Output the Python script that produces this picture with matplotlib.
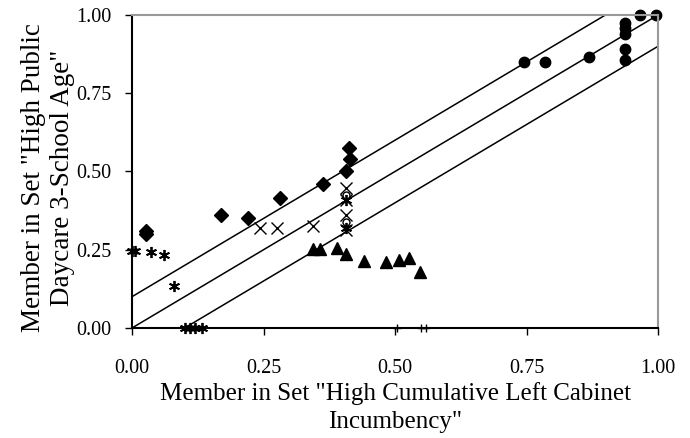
import matplotlib
matplotlib.use("Agg")
import matplotlib.pyplot as plt
import numpy as np

# diamonds
dia_x = [0.027, 0.027, 0.17, 0.221, 0.282, 0.364, 0.406, 0.414, 0.413]
dia_y = [0.30, 0.31, 0.36, 0.35, 0.415, 0.461, 0.503, 0.539, 0.575]
# filled circles
cir_x = [0.746, 0.786, 0.868, 0.937, 0.937, 0.937, 0.937, 0.937, 0.965, 0.997]
cir_y = [0.85, 0.85, 0.866, 0.856, 0.89, 0.939, 0.957, 0.975, 1.0, 1.0]
# crosses
crs_x = [0.243, 0.276, 0.345, 0.406, 0.406, 0.406, 0.406]
crs_y = [0.32, 0.32, 0.326, 0.446, 0.41, 0.361, 0.313]
# open circles
opn_x = [0.406, 0.406]
opn_y = [0.425, 0.34]
# stars
st_x = [0.0, 0.005, 0.037, 0.06, 0.08, 0.10, 0.11, 0.12, 0.133, 0.406, 0.406]
st_y = [0.247, 0.247, 0.244, 0.233, 0.134, 0.0, 0.0, 0.0, 0.0, 0.41, 0.32]
# triangles
tri_x = [0.345, 0.357, 0.39, 0.407, 0.441, 0.483, 0.507, 0.527, 0.548]
tri_y = [0.251, 0.251, 0.256, 0.235, 0.215, 0.212, 0.217, 0.223, 0.18]
# plus marks on the axis
pls_x = [0.503, 0.549, 0.559]
pls_y = [0.0, 0.0, 0.0]

ticks = [0.0, 0.25, 0.5, 0.75, 1.0]
tick_labels = ["0.00", "0.25", "0.50", "0.75", "1.00"]
band = 0.1

plt.rcParams["font.family"] = ["Liberation Serif", "DejaVu Serif"]

fig = plt.figure(figsize=(6.9, 4.38), dpi=100)
ax = fig.add_axes([132 / 690, 1 - 328 / 438, 526 / 690, 313 / 438])

xs = np.array([0.0, 1.0])
ax.plot([0, 1 - band], [band, 1], color="black", lw=1.1)
ax.plot(xs, xs, color="black", lw=1.1)
ax.plot([band, 1], [0, 1 - band], color="black", lw=1.1)

ax.plot(dia_x, dia_y, "D", color="black", ms=7, clip_on=False)
ax.plot(cir_x, cir_y, "o", color="black", ms=7.5, clip_on=False)
ax.plot(crs_x, crs_y, "x", color="black", ms=8, mew=1, clip_on=False)
ax.plot(opn_x, opn_y, "o", mfc="white", mec="black", ms=5, clip_on=False)
ax.plot(st_x, st_y, marker=(6, 2, 0), ls="none", color="black", ms=8, mew=1.3, clip_on=False)
ax.plot(tri_x, tri_y, "^", color="black", ms=8.5, clip_on=False)
ax.plot(pls_x, pls_y, "+", color="black", ms=6, mew=1, clip_on=False)

ax.set_xlim(0, 1)
ax.set_ylim(0, 1)
ax.set_xticks(ticks)
ax.set_xticklabels(tick_labels)
ax.set_yticks(ticks)
ax.set_yticklabels(tick_labels)
ax.tick_params(direction="out", length=5, width=1, labelsize=14.5)
ax.tick_params(axis="x", pad=17)
ax.tick_params(axis="y", pad=10)

for side in ["left", "bottom"]:
    ax.spines[side].set_color("black")
    ax.spines[side].set_linestyle((0, (2, 1)))
    ax.spines[side].set_linewidth(1.5)
for side in ["top", "right"]:
    ax.spines[side].set_color("#999999")
    ax.spines[side].set_linestyle((0, (2, 1)))
    ax.spines[side].set_linewidth(1.5)

ax.set_xlabel('Member in Set "High Cumulative Left Cabinet\nIncumbency"', fontsize=18,
              labelpad=3, linespacing=1.35)
ax.set_ylabel('Member in Set "High Public\nDaycare 3-School Age"', fontsize=19.5,
              linespacing=1.2)
ax.yaxis.set_label_coords(-0.108, 0.48)

fig.savefig("out.png", dpi=100)
